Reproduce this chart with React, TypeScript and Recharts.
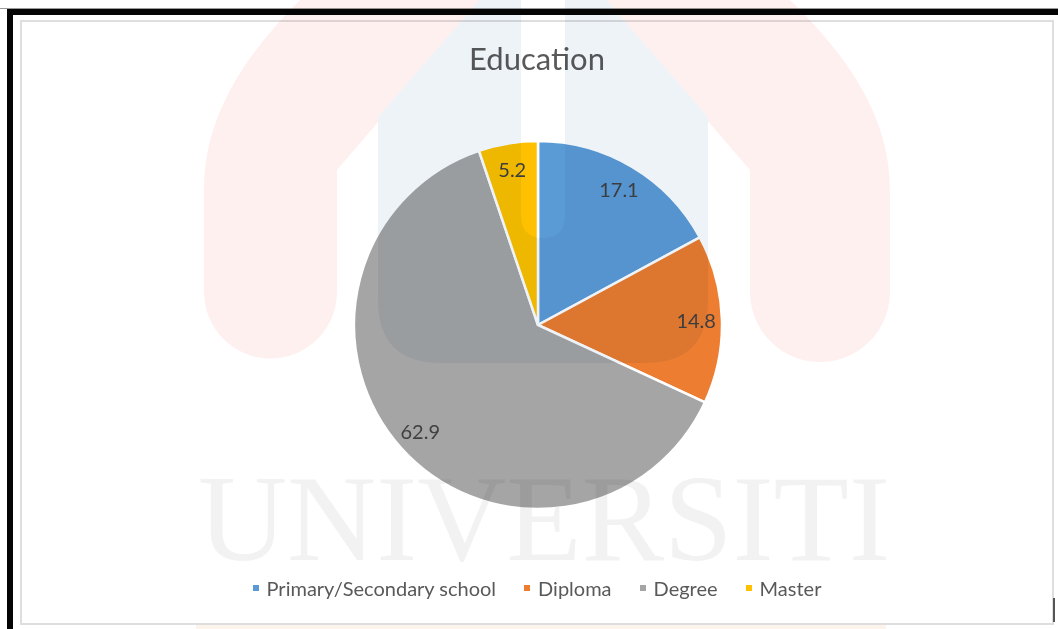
import { PieChart, Pie, Cell, Legend } from "recharts";

const categories = ["Primary/Secondary school", "Diploma", "Degree", "Master"];
const shares = [17.1, 14.8, 62.9, 5.2];
const sliceColors = ["#5B9BD5", "#ED7D31", "#A5A5A5", "#FFC000"];

const data = categories.map((name, i) => ({ name, value: shares[i] }));

const FONT = "Lato, 'Noto Sans', sans-serif";
const RAD = Math.PI / 180;

const renderLabel = (props: any) => {
  const { cx, cy, midAngle, outerRadius, value } = props;
  const r = outerRadius * 0.86;
  const x = cx + r * Math.cos(-midAngle * RAD);
  const y = cy + r * Math.sin(-midAngle * RAD);
  return (
    <text x={x} y={y} textAnchor="middle" dominantBaseline="central" fill="#404040" fontSize={20} fontFamily={FONT}>
      {value}
    </text>
  );
};

const renderLegend = () => (
  <div style={{ display: "flex", justifyContent: "center", gap: 28, fontFamily: FONT, fontSize: 20, color: "#595959" }}>
    {categories.map((c, i) => (
      <span key={c} style={{ display: "flex", alignItems: "center" }}>
        <span style={{ width: 6, height: 6, background: sliceColors[i], marginRight: 8 }} />
        <span>{c}</span>
      </span>
    ))}
  </div>
);

// faint scanned-page watermark, multiplied over the chart
function Watermark() {
  return (
    <svg width={1058} height={629} style={{ position: "absolute", left: 0, top: 0, mixBlendMode: "multiply", pointerEvents: "none" }}>
      <path
        d="M204,292 L204,190 C204,120 240,60 300,0 L790,0 C852,60 890,120 890,190 L890,292 A70,70 0 0 1 750,292 L750,170 L543,-70 L337,170 L337,292 A66.5,66.5 0 0 1 204,292 Z"
        fill="#fff0f0"
      />
      <path d="M378,300 L378,117 L543,-73 L708,117 L708,300 Q708,363 645,363 L441,363 Q378,363 378,300 Z" fill="#eef3f8" />
      <path d="M521,0 L565,0 L565,215 Q565,238 543,238 Q521,238 521,215 Z" fill="#ffffff" />
      <text x={198} y={560} textLength={692} lengthAdjust="spacingAndGlyphs" fontFamily="'Liberation Serif', 'DejaVu Serif', serif" fontSize={122} fill="#f2f2f2">
        UNIVERSITI
      </text>
      <rect x={196} y={625} width={690} height={4} fill="#fcf3ea" />
    </svg>
  );
}

export default function App() {
  return (
    <div style={{ position: "absolute", left: 0, top: 0, width: 1058, height: 629, background: "#fff", overflow: "hidden" }}>
      <div style={{ position: "absolute", left: 0, top: 8, width: 1058, height: 1, background: "#9a9a9a" }} />
      <div style={{ position: "absolute", left: 7, top: 9, width: 1051, height: 6, background: "#050505" }} />
      <div style={{ position: "absolute", left: 7, top: 9, width: 6, height: 620, background: "#050505" }} />
      <div style={{ position: "absolute", left: 20, top: 20, width: 1030, height: 601, border: "2px solid #dedede" }} />
      <div style={{ position: "absolute", left: 1053, top: 598, width: 2, height: 24, background: "#555" }} />

      <svg width={1058} height={100} style={{ position: "absolute", left: 0, top: 0 }}>
        <text x={537} y={70} textAnchor="middle" fontFamily={FONT} fontSize={31} fill="#595959">
          Education
        </text>
      </svg>

      <div style={{ position: "absolute", left: 22, top: 22 }}>
        <PieChart width={1030} height={601} margin={{ top: 0, right: 0, bottom: 0, left: 0 }}>
          <Pie
            data={data}
            dataKey="value"
            nameKey="name"
            cx={516}
            cy={303}
            outerRadius={184}
            startAngle={90}
            endAngle={-270}
            stroke="#ffffff"
            strokeWidth={2.5}
            label={renderLabel}
            labelLine={false}
            isAnimationActive={false}
          >
            {data.map((d, i) => (
              <Cell key={d.name} fill={sliceColors[i]} />
            ))}
          </Pie>
          <Legend verticalAlign="bottom" align="center" content={renderLegend} wrapperStyle={{ bottom: 23, left: 0, width: 1030 }} />
        </PieChart>
      </div>

      <Watermark />
    </div>
  );
}
